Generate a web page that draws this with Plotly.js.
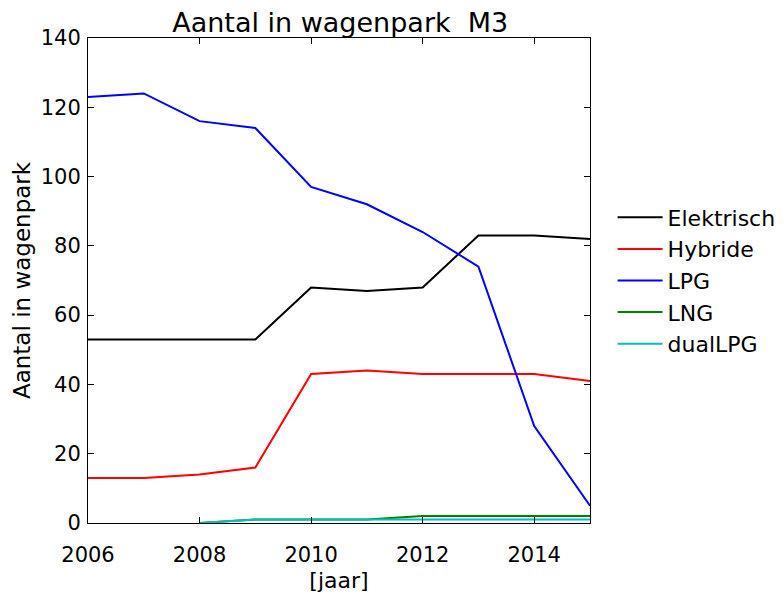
<!DOCTYPE html>
<html>
<head>
<meta charset="utf-8">
<script src="https://cdn.plot.ly/plotly-3.0.1.min.js"></script>
<style>html,body{margin:0;padding:0;background:#fff}#chart{width:784px;height:599px}</style>
</head>
<body>
<div id="chart"></div>
<script>
const years = [2006, 2007, 2008, 2009, 2010, 2011, 2012, 2013, 2014, 2015];
const elektrisch = [53, 53, 53, 53, 68, 67, 68, 83, 83, 82];
const hybride = [13, 13, 14, 16, 43, 44, 43, 43, 43, 41];
const lpg = [123, 124, 116, 114, 97, 92, 84, 74, 28, 5];
const lng = [null, null, 0, 1, 1, 1, 2, 2, 2, 2];
const dualLPG = [null, null, 0, 1, 1, 1, 1, 1, 1, 1];
const seriesNames = ['Elektrisch', 'Hybride', 'LPG', 'LNG', 'dualLPG'];
const seriesColors = ['#000000', '#ff0000', '#0000ff', '#008000', '#00bfbf'];
const seriesValues = [elektrisch, hybride, lpg, lng, dualLPG];
const xTicks = [2006, 2008, 2010, 2012, 2014];
const yTicks = [0, 20, 40, 60, 80, 100, 120, 140];

const traces = seriesValues.map((v, i) => ({
  x: years, y: v, name: seriesNames[i], type: 'scatter', mode: 'lines',
  legendgroup: 'g' + i,
  line: {color: seriesColors[i], width: 2}
}));

const fam = 'DejaVu Sans, sans-serif';
const tickFont = {family: fam, size: 21, color: '#000'};
const labelFont = {family: fam, size: 22, color: '#000'};
const layout = {
  width: 784, height: 599,
  margin: {l: 88, r: 194, t: 38, b: 76, autoexpand: false},
  paper_bgcolor: '#fff', plot_bgcolor: '#fff',
  font: tickFont,
  showlegend: true,
  title: {text: 'Aantal in wagenpark  M3', font: {family: fam, size: 27, color: '#000'}, x: 0.434, xanchor: 'center', y: 0.963, yanchor: 'middle'},
  xaxis: {
    range: [2006, 2015], tickvals: xTicks, ticktext: xTicks.map(String), tickfont: tickFont,
    ticks: 'inside', ticklen: 6, tickcolor: '#000', mirror: 'ticks', showline: true, linecolor: '#000', linewidth: 1,
    showgrid: false, zeroline: false, ticklabelstandoff: 13,
    title: {text: '[jaar]', font: labelFont, standoff: 6}
  },
  yaxis: {
    range: [0, 140], tickvals: yTicks, tickfont: tickFont,
    ticks: 'inside', ticklen: 6, tickcolor: '#000', mirror: 'ticks', showline: true, linecolor: '#000', linewidth: 1,
    showgrid: false, zeroline: false, ticklabelstandoff: 2,
    title: {text: 'Aantal in wagenpark', font: {family: fam, size: 23, color: '#000'}, standoff: 3}
  },
  legend: {x: 1.045, xanchor: 'left', y: 0.5, yanchor: 'middle', font: labelFont, bgcolor: 'rgba(0,0,0,0)', tracegroupgap: 0, itemwidth: 45}
};
Plotly.newPlot('chart', traces, layout, {displayModeBar: false, staticPlot: true});
</script>
</body>
</html>
